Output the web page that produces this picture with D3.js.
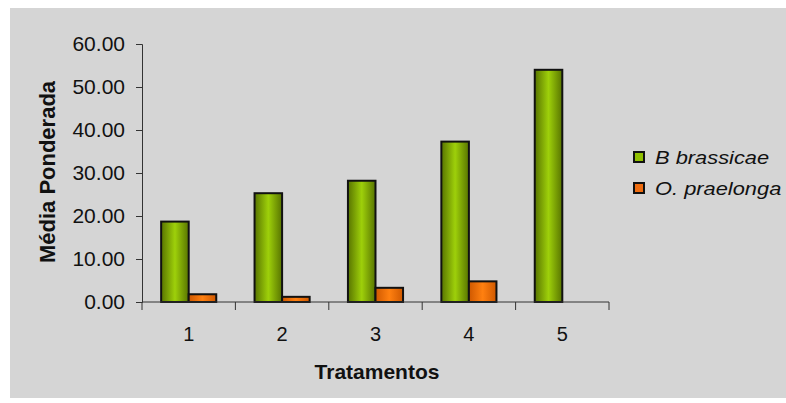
<!DOCTYPE html>
<html>
<head>
<meta charset="utf-8">
<script src="https://cdn.jsdelivr.net/npm/d3@7"></script>
<style>
  html, body { margin: 0; padding: 0; background: #ffffff; }
  svg { display: block; }
</style>
</head>
<body>
<svg id="chart" width="786" height="403"></svg>
<script>
// Weighted mean per treatment for each species
const categories = ["1", "2", "3", "4", "5"];
const seriesNames = ["B brassicae", "O. praelonga"];
const brassicae = [18.7, 25.3, 28.2, 37.3, 54.0];
const praelonga = [1.8, 1.2, 3.3, 4.8, 0];
const yTicks = [0, 10, 20, 30, 40, 50, 60];

const FONT = "Arial, 'Liberation Sans', sans-serif";
const svg = d3.select("#chart");
const W = 786;

// grey chart panel
svg.append("rect").attr("x", 10).attr("y", 8).attr("width", W - 10).attr("height", 390)
  .attr("fill", "#d5d5d5");

const defs = svg.append("defs");
function hGrad(id, edge, mid) {
  const g = defs.append("linearGradient").attr("id", id)
    .attr("x1", "0%").attr("x2", "100%").attr("y1", "0%").attr("y2", "0%");
  g.append("stop").attr("offset", "0%").attr("stop-color", edge);
  g.append("stop").attr("offset", "50%").attr("stop-color", mid);
  g.append("stop").attr("offset", "100%").attr("stop-color", edge);
}
hGrad("gGreen", "#587400", "#9ed00a");
hGrad("gOrange", "#cf5800", "#ff8010");

const plot = { left: 142, right: 609, top: 44, bottom: 302 };

const x = d3.scaleBand().domain(categories).range([plot.left, plot.right])
  .paddingInner(0.41).paddingOuter(0.205);
const xs = d3.scaleBand().domain(seriesNames).range([0, x.bandwidth()]);
const y = d3.scaleLinear().domain([0, 60]).range([plot.bottom, plot.top]);

const data = categories.map((c, i) => ({ cat: c, vals: [brassicae[i], praelonga[i]] }));
const fills = ["url(#gGreen)", "url(#gOrange)"];

const groups = svg.append("g").selectAll("g").data(data).join("g")
  .attr("transform", d => `translate(${x(d.cat)},0)`);
groups.selectAll("rect")
  .data(d => d.vals.map((v, k) => ({ v, k })).filter(e => e.v > 0))
  .join("rect")
  .attr("x", e => xs(seriesNames[e.k]))
  .attr("y", e => y(e.v))
  .attr("width", xs.bandwidth())
  .attr("height", e => y(0) - y(e.v))
  .attr("fill", e => fills[e.k])
  .attr("stroke", "#111")
  .attr("stroke-width", 2);

// y axis
const yAxis = d3.axisLeft(y).tickValues(yTicks).tickFormat(d3.format(".2f"))
  .tickSizeOuter(0).tickSize(6).tickPadding(11);
const gy = svg.append("g").attr("transform", `translate(${plot.left},0)`).call(yAxis);
gy.select(".domain").attr("stroke", "#333");
gy.selectAll(".tick line").attr("stroke", "#333");
gy.selectAll("text").attr("font-family", FONT)
  .attr("font-size", 21).attr("fill", "#111");

// x axis: ticks between categories, extending below the baseline
const gx = svg.append("g").attr("transform", `translate(0,${plot.bottom})`);
gx.append("line").attr("x1", plot.left).attr("x2", plot.right).attr("stroke", "#333");
const bounds = d3.range(categories.length + 1).map(i => plot.left + i * (plot.right - plot.left) / categories.length);
gx.selectAll("line.tk").data(bounds).join("line").attr("class", "tk")
  .attr("x1", d => d).attr("x2", d => d).attr("y1", 0).attr("y2", 8).attr("stroke", "#333");
gx.selectAll("text").data(categories).join("text")
  .attr("x", d => x(d) + x.bandwidth() / 2)
  .attr("y", 39)
  .attr("text-anchor", "middle")
  .attr("font-family", FONT)
  .attr("font-size", 20).attr("fill", "#111")
  .text(d => d);

// axis titles
svg.append("text").attr("x", 377).attr("y", 379).attr("text-anchor", "middle")
  .attr("font-family", FONT).attr("font-weight", "bold")
  .attr("font-size", 21).attr("fill", "#111").text("Tratamentos");
svg.append("text").attr("transform", "translate(55,172) rotate(-90)").attr("text-anchor", "middle")
  .attr("font-family", FONT).attr("font-weight", "bold")
  .attr("font-size", 22).attr("fill", "#111").text("Média Ponderada");

// legend
const legend = svg.append("g").attr("transform", "translate(633,151)");
const solid = ["#8fbf00", "#ee6c10"];
seriesNames.forEach((n, i) => {
  const g = legend.append("g").attr("transform", `translate(0,${i * 31})`);
  g.append("rect").attr("x", 1).attr("y", 1).attr("width", 10).attr("height", 10)
    .attr("fill", solid[i]).attr("stroke", "#111").attr("stroke-width", 2);
  g.append("text").attr("transform", "translate(22,13) scale(1.15,1)")
    .attr("font-family", FONT).attr("font-style", "italic")
    .attr("font-size", 19).attr("fill", "#111").text(n);
});
</script>
</body>
</html>
